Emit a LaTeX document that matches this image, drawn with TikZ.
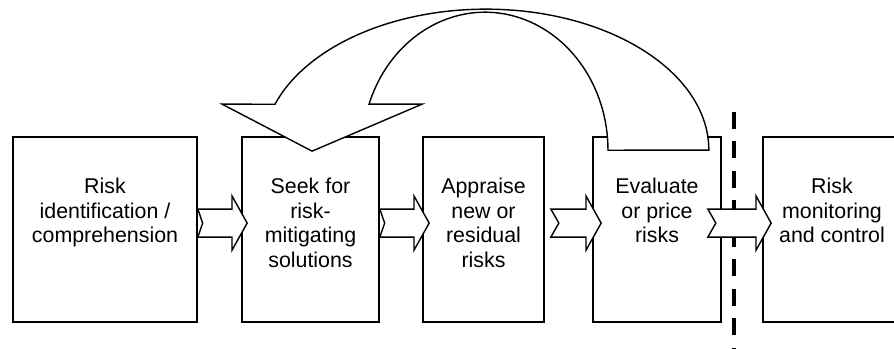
\documentclass[tikz,border=0pt]{standalone}
\usepackage{fontspec}
\setmainfont{Liberation Sans}
\usetikzlibrary{calc}

\tikzset{
    stage/.style={draw, line width=1.2pt, minimum height=4.625cm},
    stagetext/.style={anchor=north, align=center, inner sep=0pt,
        font=\fontsize{15.2pt}{17.4pt}\selectfont},
    % broad arrow with a notched tail, #1 is the notch depth
    fatarrow/.style={draw, fill=white, line width=1pt, line join=miter, to path={
        let \p1=(\tikztostart), \p2=(\tikztotarget) in
        (\x1,\y1+0.35cm) -- (\x2-0.38cm,\y1+0.35cm) -- (\x2-0.38cm,\y1+0.68cm)
        -- (\x2,\y1) -- (\x2-0.38cm,\y1-0.68cm) -- (\x2-0.38cm,\y1-0.35cm)
        -- (\x1,\y1-0.35cm) -- (\x1+#1,\y1) -- cycle}},
    fatarrow/.default=0.2cm,
    cutline/.style={line width=2.4pt, dash pattern=on 12pt off 9pt},
}

\begin{document}
\begin{tikzpicture}
    \useasboundingbox (0,0) rectangle (22.35,8.725);

    % the five stages
    \node[stage, minimum width=4.6cm] (ident) at (2.625,2.9875) {};
    \node[stage, minimum width=3.425cm] (seek) at (7.7625,2.9875) {};
    \node[stage, minimum width=3.025cm] (appraise) at (12.0875,2.9875) {};
    \node[stage, minimum width=3.2cm] (evaluate) at (16.425,2.9875) {};
    \node[stage, minimum width=3.45cm] (monitor) at (20.8,2.9875) {};

    \node[stagetext] (identtext) at ([yshift=-1.05cm]ident.north) {Risk\\identification /\\comprehension};
    \node[stagetext] (seektext) at ([yshift=-1.05cm]seek.north) {Seek for\\risk-\\mitigating\\solutions};
    \node[stagetext] (appraisetext) at ([yshift=-1.05cm]appraise.north) {Appraise\\new or\\residual\\risks};
    \node[stagetext] (evaluatetext) at ([yshift=-1.05cm]evaluate.north) {Evaluate\\or price\\risks};
    \node[stagetext] (monitortext) at ([yshift=-1.05cm]monitor.north) {Risk\\monitoring\\and control};

    % dividing line
    \coordinate (cuttop) at (18.35,5.93);
    \coordinate (cutbot) at (18.35,0);
    \draw[cutline] (cuttop) -- (cutbot);

    % forward arrows
    \draw[fatarrow=0.12cm] ([yshift=0.16cm]ident.east) to ([shift={(0.15,0.16)}]seek.west);
    \draw[fatarrow=0.12cm] ([yshift=0.16cm]seek.east) to ([shift={(0.175,0.16)}]appraise.west);
    \draw[fatarrow] ([shift={(0.15,0.16)}]appraise.east) to ([shift={(0.225,0.16)}]evaluate.west);
    \draw[fatarrow] ([shift={(-0.35,0.16)}]evaluate.east) to ([shift={(0.225,0.16)}]monitor.west);

    % loop back from evaluation to the search for solutions
    \draw[fill=white, line width=1pt, line join=miter]
        ([shift={(-0.325,-0.35)}]evaluate.north east)
        arc[start angle=0, end angle=161, x radius=5.575cm, y radius=3.525cm]
        -- ([shift={(-2.21,0.8)}]seek.north)
        -- ([shift={(0.04,-0.375)}]seek.north)
        -- ([shift={(2.79,0.8)}]seek.north)
        -- ([shift={(1.4635,0.8)}]seek.north)
        arc[start angle=160.5, end angle=0, x radius=3.075cm, y radius=3.45cm]
        -- cycle;
\end{tikzpicture}
\end{document}
